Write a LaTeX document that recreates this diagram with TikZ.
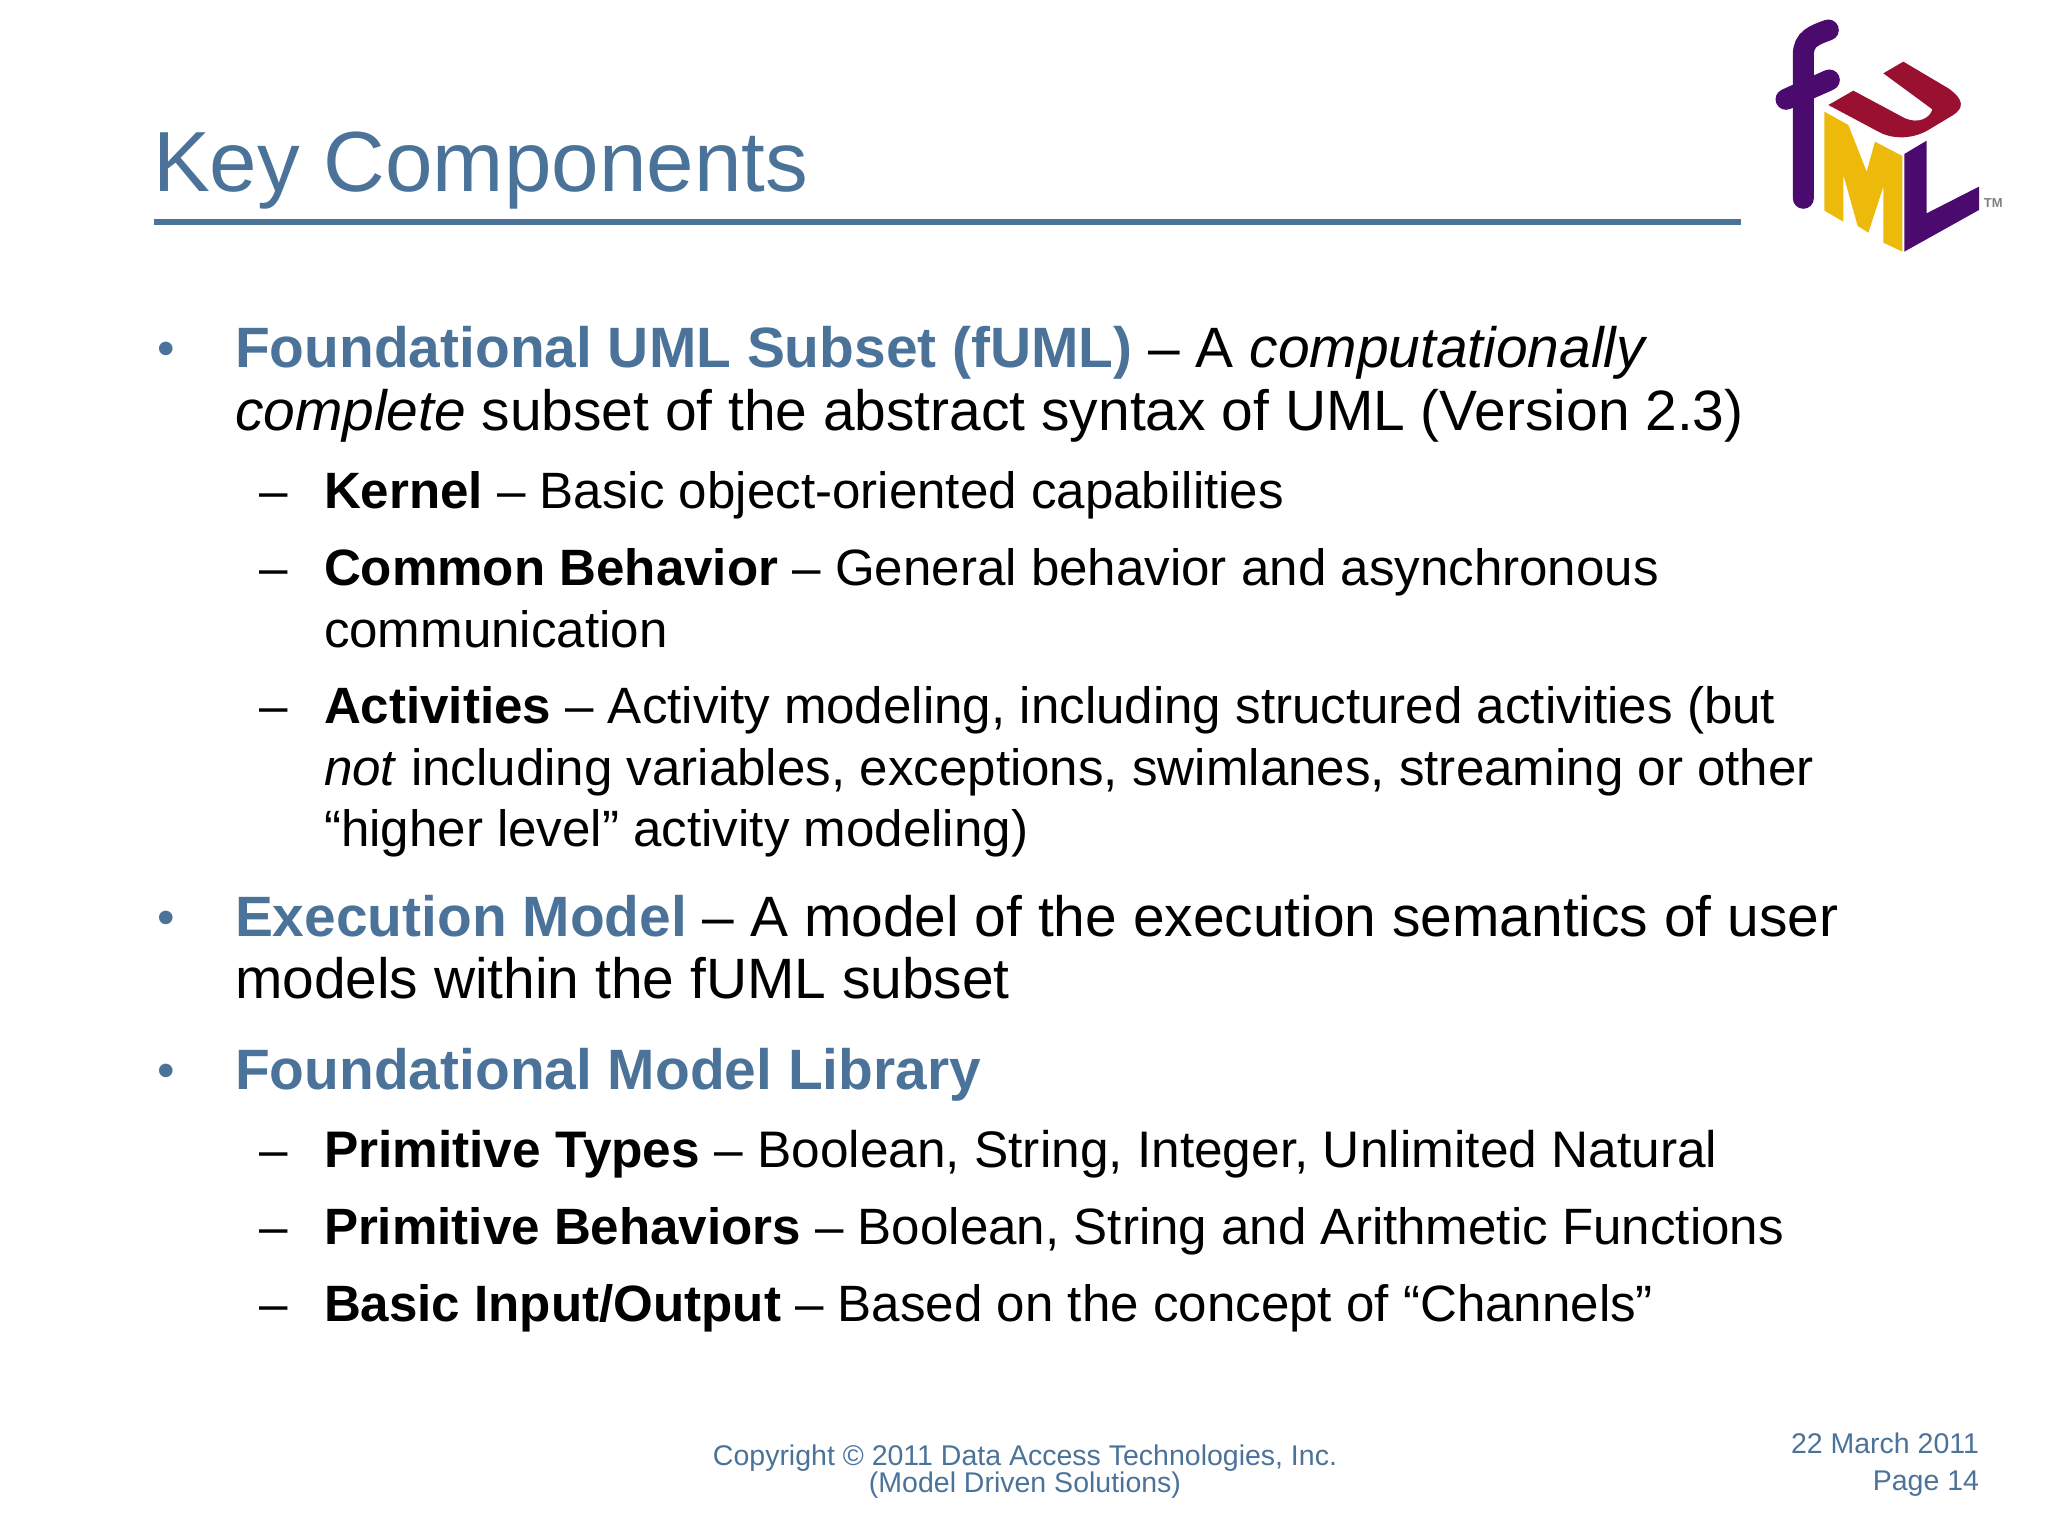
\documentclass[tikz,border=0pt]{standalone}
\usepackage{fontspec}
\setmainfont{Liberation Sans}
\usepackage{xcolor}
\definecolor{slideblue}{HTML}{4B739A}
\definecolor{logopurple}{HTML}{4A0A6E}
\definecolor{logored}{HTML}{9A1030}
\definecolor{logoyellow}{HTML}{EDB90A}
\tikzset{
	every node/.style={inner sep=0pt,outer sep=0pt,anchor=base west},
	head/.style={text=slideblue,font=\fontsize{85.4}{85.4}\selectfont},
	lineone/.style={text=black,font=\fontsize{56.9}{62}\selectfont},
	linetwo/.style={text=black,font=\fontsize{51.1}{62}\selectfont},
	foot/.style={text=slideblue,font=\fontsize{28.5}{28.5}\selectfont},
	dot/.style={text=slideblue,font=\fontsize{50}{50}\selectfont,anchor=base}
}
\newcommand{\lead}[1]{\textcolor{slideblue}{\textbf{#1}}}

\begin{document}
\begin{tikzpicture}[x=1pt,y=-1pt]
\useasboundingbox (0,0) rectangle (2048,1536);

\node [head] (title) at (153,191) {Key Components};
\draw [slideblue,line width=6pt] (154,222) -- (1741,222);

\node [dot] (b1) at (166,365) {•};
\node [lineone] (l1) at (235,367) {\lead{Foundational UML Subset (fUML)} – A \textit{computationally}};
\node [lineone] (l2) at (235,430) {\textit{complete} subset of the abstract syntax of UML (Version 2.3)};

\node [linetwo] (d1) at (259,508.5) {–};
\node [linetwo] (k1) at (324,508.5) {\textbf{Kernel} – Basic object-oriented capabilities};
\node [linetwo] (d2) at (259,585) {–};
\node [linetwo] (c1) at (324,585) {\textbf{Common Behavior} – General behavior and asynchronous};
\node [linetwo] (c2) at (324,647) {communication};
\node [linetwo] (d3) at (259,723.5) {–};
\node [linetwo] (a1) at (324,723.5) {\textbf{Activities} – Activity modeling, including structured activities (but};
\node [linetwo] (a2) at (324,785) {\textit{not} including variables, exceptions, swimlanes, streaming or other};
\node [linetwo] (a3) at (324,846.5) {“higher level” activity modeling)};

\node [dot] (b2) at (166,934) {•};
\node [lineone] (e1) at (235,936) {\lead{Execution Model} – A model of the execution semantics of user};
\node [lineone] (e2) at (235,998) {models within the fUML subset};

\node [dot] (b3) at (166,1087) {•};
\node [lineone] (f1) at (235,1089) {\lead{Foundational Model Library}};

\node [linetwo] (d4) at (259,1167.5) {–};
\node [linetwo,font=\fontsize{51.4}{62}\selectfont] (p1) at (324,1167.5) {\textbf{Primitive Types} – Boolean, String, Integer, Unlimited Natural};
\node [linetwo] (d5) at (259,1244.5) {–};
\node [linetwo] (p2) at (324,1244.5) {\textbf{Primitive Behaviors} – Boolean, String and Arithmetic Functions};
\node [linetwo] (d6) at (259,1321.5) {–};
\node [linetwo] (p3) at (324,1321.5) {\textbf{Basic Input/Output} – Based on the concept of “Channels”};

\node [foot,anchor=base] (copy1) at (1025,1465) {Copyright © 2011 Data Access Technologies, Inc.};
\node [foot,anchor=base] (copy2) at (1025,1492) {(Model Driven Solutions)};
\node [foot,anchor=base east] (date) at (1979,1453) {22 March 2011};
\node [foot,anchor=base east] (page) at (1979,1490) {Page 14};

% logo
\begin{scope}[shift={(1740,0)},x=0.3333pt,y=-0.3333pt]
\draw [logopurple,line width=21pt,line cap=round] (190,595) -- (190,165) .. controls (190,115) and (225,105) .. (265,90);
\draw [logopurple,line width=21pt,line cap=round] (138,298) -- (268,240);
\node [text=gray,font=\bfseries\fontsize{13}{13}\selectfont,anchor=base] (tm) at (760,624) {TM};
\end{scope}
\begin{scope}[shift={(1815,50)},x=0.3333pt,y=-0.3333pt]
\fill [logored] (40,165) -- (115,122) -- (270,205) .. controls (310,222) and (345,205) .. (352,178) -- (205,70) -- (265,35) -- (400,115) .. controls (450,150) and (445,175) .. (415,195) -- (340,240) .. controls (285,272) and (225,265) .. (190,245) -- cycle;
\fill [logoyellow] (28,185) -- (100,225) -- (155,365) -- (180,275) -- (262,318) -- (262,605) -- (205,578) -- (205,410) -- (160,548) -- (128,528) -- (85,375) -- (85,515) -- (28,482) -- cycle;
\fill [logopurple] (268,312) -- (335,272) -- (335,490) -- (492,410) -- (492,480) -- (268,605) -- cycle;
\end{scope}
\end{tikzpicture}
\end{document}
